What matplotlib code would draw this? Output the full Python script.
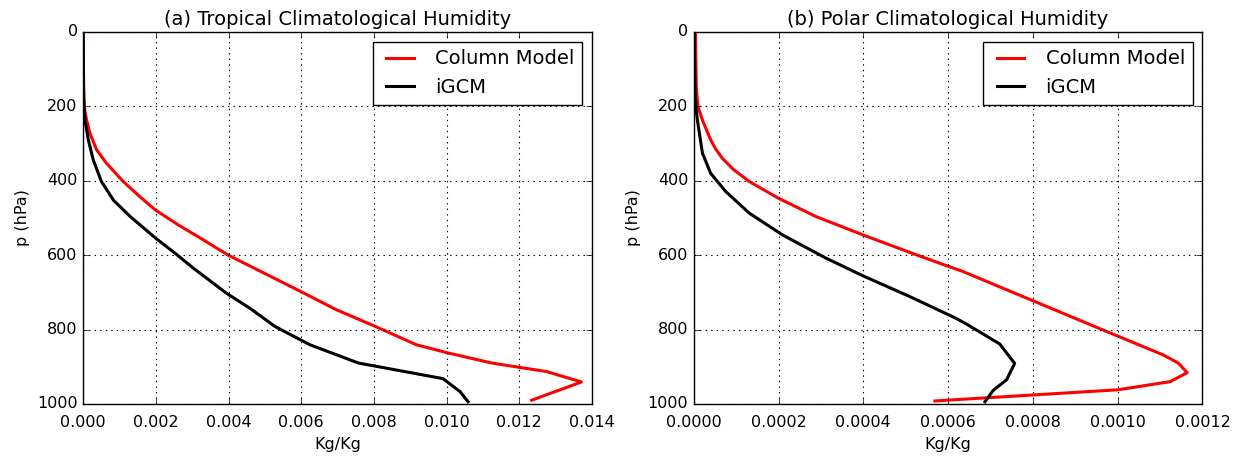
import matplotlib
matplotlib.use("Agg")
import matplotlib.pyplot as plt

# (a) tropical profiles: pressure (hPa) and specific humidity (Kg/Kg)
trop_col_p = [0, 100, 180, 210, 237, 272, 317, 353, 402, 443, 478, 519, 555,
              600, 698, 747, 790, 841, 862, 890, 913, 941, 990]
trop_col_q = [0.0, 0.000005, 0.00002, 0.00004, 0.000094, 0.000184, 0.00037,
              0.00064, 0.0011, 0.00156, 0.00198, 0.00262, 0.00324, 0.00399,
              0.00599, 0.00697, 0.008, 0.00917, 0.01, 0.01124,
              0.01275, 0.01371, 0.01234]
trop_gcm_p = [0, 150, 200, 237, 290, 344, 402, 452, 496, 555, 595, 635, 703,
              743, 792, 841, 890, 932, 967, 994]
trop_gcm_q = [0.0, 0.000005, 0.00002, 0.000047, 0.00014, 0.000275, 0.0005,
              0.00083, 0.00129, 0.002, 0.00253, 0.00303, 0.00395, 0.00459,
              0.00528, 0.00624, 0.00757, 0.0099, 0.01037, 0.01059]

# (b) polar profiles
pol_col_p = [0, 150, 200, 237, 290, 315, 340, 370, 402, 447, 496, 546, 602,
             644, 801, 868, 890, 916, 940, 962, 992]
pol_col_q = [0.000004, 0.000006, 0.00001, 0.0000206, 0.00004, 0.000052,
             0.0000678, 0.000094, 0.000131, 0.0002, 0.000288, 0.0004,
             0.000532, 0.000635, 0.000965, 0.001107, 0.001143, 0.001164,
             0.001124, 0.001001, 0.000569]
pol_gcm_p = [0, 150, 200, 237, 326, 380, 429, 487, 546, 608, 656, 711, 770,
             785, 839, 891, 935, 964, 994]
pol_gcm_q = [0.000001, 0.000003, 0.000005, 0.0000087, 0.0000206, 0.00004,
             0.0000756, 0.000131, 0.00021, 0.000312, 0.0004, 0.000509,
             0.000619, 0.000643, 0.000722, 0.000757, 0.000738, 0.000706,
             0.000687]

plt.style.use("classic")
plt.rcParams["font.family"] = ["DejaVu Sans"]

fig, axes = plt.subplots(1, 2, figsize=(12.48, 4.59), dpi=100)
fig.patch.set_facecolor("white")
fig.subplots_adjust(left=0.0667, right=0.9635, bottom=0.12, top=0.9303, wspace=0.2)

panels = [
    (axes[0], trop_col_q, trop_col_p, trop_gcm_q, trop_gcm_p,
     "(a) Tropical Climatological Humidity", 0.014, 0.002, "%.3f"),
    (axes[1], pol_col_q, pol_col_p, pol_gcm_q, pol_gcm_p,
     "(b) Polar Climatological Humidity", 0.0012, 0.0002, "%.4f"),
]

for ax, cq, cp, gq, gp, title, xmax, step, fmt in panels:
    ax.plot(cq, cp, color="red", lw=2.2, label="Column Model")
    ax.plot(gq, gp, color="black", lw=2.2, label="iGCM")
    ax.set_xlim(0, xmax)
    ax.set_ylim(1000, 0)
    n = int(round(xmax / step))
    ticks = [i * step for i in range(n + 1)]
    ax.set_xticks(ticks)
    ax.set_xticklabels([fmt % t for t in ticks])
    ax.set_yticks(range(0, 1001, 200))
    ax.tick_params(labelsize=11.5)
    ax.tick_params(axis="x", pad=8)
    ax.grid(True, color="black", linestyle=":", linewidth=0.8)
    ax.set_title(title, fontsize=14)
    ax.set_xlabel("Kg/Kg", fontsize=11.5)
    ax.set_ylabel("p (hPa)", fontsize=11.5)
    ax.legend(loc="upper right", fontsize=14, fancybox=False)

fig.savefig("out.png", dpi=100, facecolor="white")
